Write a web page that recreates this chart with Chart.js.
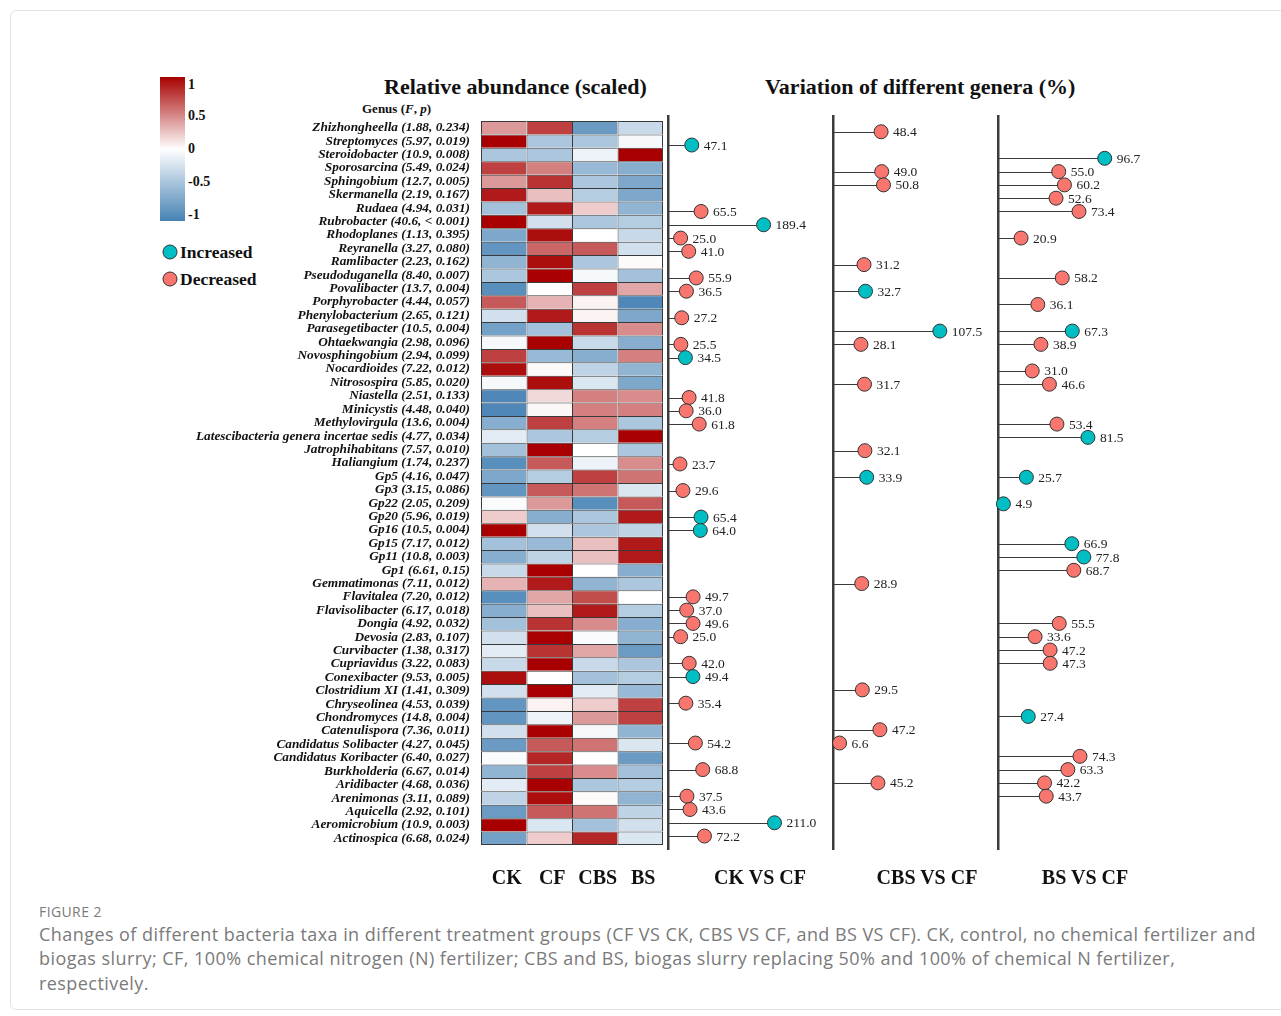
<!DOCTYPE html>
<html><head><meta charset="utf-8">
<script src="https://cdn.jsdelivr.net/npm/chart.js@4.4.0/dist/chart.umd.min.js"></script>
<style>
html,body{margin:0;padding:0;background:#fff;}
body{width:1281px;height:1016px;position:relative;overflow:hidden;font-family:"Liberation Serif","Times New Roman",serif;color:#111;}
.abs{position:absolute;}
.frame{left:10px;top:10px;width:1290px;height:1000px;border:1px solid #e2e2e2;border-radius:6px;box-sizing:border-box;}
.title{font-weight:bold;font-size:22px;white-space:nowrap;}
.panel{font-weight:bold;font-size:20px;white-space:nowrap;transform:translateX(-50%);}
.cb{left:160px;top:77px;width:25px;height:144px;background:linear-gradient(to bottom,#A80000 0%,#ffffff 50%,#4682B4 100%);}
.cbl{font-weight:bold;font-size:14px;left:188px;transform:translateY(-50%);}
.dot{width:15px;height:15px;border-radius:50%;border:1px solid #333;box-sizing:border-box;transform:translate(-50%,-50%);}
.leg{font-weight:bold;font-size:17.5px;left:180px;transform:translateY(-50%);}
.cap{left:39px;font-family:"Open Sans",sans-serif;color:#7a7a7a;white-space:nowrap;}
</style></head><body>
<div class="abs frame"></div>

<div class="abs cb"></div>
<div class="abs cbl" style="top:85px">1</div>
<div class="abs cbl" style="top:116px">0.5</div>
<div class="abs cbl" style="top:149px">0</div>
<div class="abs cbl" style="top:182px">-0.5</div>
<div class="abs cbl" style="top:215px">-1</div>
<div class="abs dot" style="left:170px;top:252px;background:#00BFC4"></div>
<div class="abs leg" style="top:252px">Increased</div>
<div class="abs dot" style="left:170px;top:279px;background:#F8766D"></div>
<div class="abs leg" style="top:279px">Decreased</div>

<div class="abs title" style="left:384px;top:74px">Relative abundance (scaled)</div>
<div class="abs title" style="left:765px;top:74px">Variation of different genera (%)</div>
<div class="abs" style="left:362px;top:101px;font-weight:bold;font-size:13px;">Genus (<i>F</i>, <i>p</i>)</div>

<div class="abs" style="left:150px;top:100px;"><canvas id="heat" width="520" height="800"></canvas></div>
<div class="abs" style="left:664px;top:115px;"><canvas id="ckcf" width="175" height="735"></canvas></div>
<div class="abs" style="left:829px;top:115px;"><canvas id="cbscf" width="175" height="735"></canvas></div>
<div class="abs" style="left:994px;top:115px;"><canvas id="bscf" width="175" height="735"></canvas></div>

<div class="abs panel" style="left:760px;top:866px">CK VS CF</div>
<div class="abs panel" style="left:927px;top:866px">CBS VS CF</div>
<div class="abs panel" style="left:1085px;top:866px">BS VS CF</div>

<div class="abs cap" style="top:902px;font-size:14px;letter-spacing:0.4px;">FIGURE 2</div>
<div class="abs cap" style="top:922px;font-size:18px;letter-spacing:0.44px;">Changes of different bacteria taxa in different treatment groups (CF VS CK, CBS VS CF, and BS VS CF). CK, control, no chemical fertilizer and</div>
<div class="abs cap" style="top:946px;font-size:18px;letter-spacing:0.44px;">biogas slurry; CF, 100% chemical nitrogen (N) fertilizer; CBS and BS, biogas slurry replacing 50% and 100% of chemical N fertilizer,</div>
<div class="abs cap" style="top:971px;font-size:18px;letter-spacing:0.44px;">respectively.</div>

<script>
// ---------------- DATA ----------------
const genera = ["Zhizhongheella","Streptomyces","Steroidobacter","Sporosarcina","Sphingobium","Skermanella","Rudaea","Rubrobacter","Rhodoplanes","Reyranella","Ramlibacter","Pseudoduganella","Povalibacter","Porphyrobacter","Phenylobacterium","Parasegetibacter","Ohtaekwangia","Novosphingobium","Nocardioides","Nitrosospira","Niastella","Minicystis","Methylovirgula","Latescibacteria genera incertae sedis","Jatrophihabitans","Haliangium","Gp5","Gp3","Gp22","Gp20","Gp16","Gp15","Gp11","Gp1","Gemmatimonas","Flavitalea","Flavisolibacter","Dongia","Devosia","Curvibacter","Cupriavidus","Conexibacter","Clostridium XI","Chryseolinea","Chondromyces","Catenulispora","Candidatus Solibacter","Candidatus Koribacter","Burkholderia","Aridibacter","Arenimonas","Aquicella","Aeromicrobium","Actinospica"];
const fValues = ["1.88","5.97","10.9","5.49","12.7","2.19","4.94","40.6","1.13","3.27","2.23","8.40","13.7","4.44","2.65","10.5","2.98","2.94","7.22","5.85","2.51","4.48","13.6","4.77","7.57","1.74","4.16","3.15","2.05","5.96","10.5","7.17","10.8","6.61","7.11","7.20","6.17","4.92","2.83","1.38","3.22","9.53","1.41","4.53","14.8","7.36","4.27","6.40","6.67","4.68","3.11","2.92","10.9","6.68"];
const pValues = ["0.234","0.019","0.008","0.024","0.005","0.167","0.031","< 0.001","0.395","0.080","0.162","0.007","0.004","0.057","0.121","0.004","0.096","0.099","0.012","0.020","0.133","0.040","0.004","0.034","0.010","0.237","0.047","0.086","0.209","0.019","0.004","0.012","0.003","0.15","0.012","0.012","0.018","0.032","0.107","0.317","0.083","0.005","0.309","0.039","0.004","0.011","0.045","0.027","0.014","0.036","0.089","0.101","0.003","0.024"];

const heatCols = ["CK","CF","CBS","BS"];
const ckScaled  = [0.4,1.0,-0.45,0.75,0.4,0.9,-0.5,1.0,-0.7,-0.85,-0.6,-0.45,-0.9,0.65,-0.25,-0.75,-0.05,0.75,0.95,-0.05,-0.95,-0.95,-0.65,-0.15,-0.5,-0.9,-0.7,-0.85,-0.03,0.2,1.0,-0.5,-0.65,-0.3,0.3,-0.9,-0.65,-0.5,-0.25,-0.15,-0.3,0.95,-0.25,-0.85,-0.85,-0.25,-0.8,-0.03,-0.6,-0.15,-0.35,-0.8,1.0,-0.75];
const cfScaled  = [0.75,-0.45,-0.45,0.5,0.8,0.25,0.9,-0.25,0.95,0.6,0.95,1.0,0.0,0.3,0.9,-0.5,1.0,-0.55,0.02,0.95,0.15,0.03,0.75,-0.45,1.0,0.65,-0.4,0.65,0.4,-0.65,-0.25,-0.55,-0.35,1.0,0.9,0.35,0.25,0.8,1.0,0.8,1.0,0.0,1.0,0.05,-0.1,1.0,0.65,0.85,0.75,1.0,0.95,0.65,-0.2,0.2];
const cbsScaled = [-0.8,-0.45,-0.1,-0.55,-0.45,-0.4,0.2,-0.45,0.0,0.65,-0.45,-0.05,0.75,0.05,0.05,0.8,-0.3,-0.65,-0.35,-0.2,0.5,0.5,0.5,-0.4,0.0,-0.1,0.75,0.55,-0.9,-0.45,-0.45,0.25,0.25,0.0,-0.6,0.7,0.9,0.45,-0.03,0.35,-0.3,-0.5,-0.15,0.2,0.4,-0.05,0.55,0.0,0.45,-0.45,0.02,0.55,-0.5,0.85];
const bsScaled  = [-0.3,-0.05,1.0,-0.65,-0.7,-0.7,-0.6,-0.4,-0.3,-0.25,0.02,-0.5,0.35,-0.95,-0.7,0.45,-0.65,0.5,-0.6,-0.7,0.45,0.5,-0.45,1.0,-0.45,0.45,0.55,-0.2,0.65,0.9,-0.35,0.9,0.9,-0.65,-0.45,0.0,-0.4,-0.65,-0.6,-0.8,-0.45,-0.4,-0.55,0.75,0.75,-0.6,-0.2,-0.8,-0.5,-0.4,-0.6,-0.35,-0.25,-0.2];

const ckVsCfGenera = ["Streptomyces","Rudaea","Rubrobacter","Rhodoplanes","Reyranella","Pseudoduganella","Povalibacter","Phenylobacterium","Ohtaekwangia","Novosphingobium","Niastella","Minicystis","Methylovirgula","Haliangium","Gp3","Gp20","Gp16","Flavitalea","Flavisolibacter","Dongia","Devosia","Cupriavidus","Conexibacter","Chryseolinea","Candidatus Solibacter","Burkholderia","Arenimonas","Aquicella","Aeromicrobium","Actinospica"];
const ckVsCfValues = [47.1,65.5,189.4,25.0,41.0,55.9,36.5,27.2,25.5,34.5,41.8,36.0,61.8,23.7,29.6,65.4,64.0,49.7,37.0,49.6,25.0,42.0,49.4,35.4,54.2,68.8,37.5,43.6,211.0,72.2];
const ckVsCfChange = ["up","down","up","down","down","down","down","down","down","up","down","down","down","down","down","up","up","down","down","down","down","down","up","down","down","down","down","down","up","down"];

const cbsVsCfGenera = ["Zhizhongheella","Sporosarcina","Sphingobium","Ramlibacter","Povalibacter","Parasegetibacter","Ohtaekwangia","Nitrosospira","Jatrophihabitans","Gp5","Gemmatimonas","Clostridium XI","Catenulispora","Candidatus Solibacter","Aridibacter"];
const cbsVsCfValues = [48.4,49.0,50.8,31.2,32.7,107.5,28.1,31.7,32.1,33.9,28.9,29.5,47.2,6.6,45.2];
const cbsVsCfChange = ["down","down","down","down","up","up","down","down","down","up","down","down","down","down","down"];

const bsVsCfGenera = ["Steroidobacter","Sporosarcina","Sphingobium","Skermanella","Rudaea","Rhodoplanes","Pseudoduganella","Porphyrobacter","Parasegetibacter","Ohtaekwangia","Nocardioides","Nitrosospira","Methylovirgula","Latescibacteria genera incertae sedis","Gp5","Gp22","Gp15","Gp11","Gp1","Dongia","Devosia","Curvibacter","Cupriavidus","Chondromyces","Candidatus Koribacter","Burkholderia","Aridibacter","Arenimonas"];
const bsVsCfValues = [96.7,55.0,60.2,52.6,73.4,20.9,58.2,36.1,67.3,38.9,31.0,46.6,53.4,81.5,25.7,4.9,66.9,77.8,68.7,55.5,33.6,47.2,47.3,27.4,74.3,63.3,42.2,43.7];
const bsVsCfChange = ["up","down","down","down","down","down","down","down","up","down","down","down","down","up","up","up","up","up","down","down","down","down","down","up","down","down","down","down"];

// ---------------- STYLE ----------------
const RED = "#F8766D", CYAN = "#00BFC4";
const HIGH = [168,0,0], MID = [255,255,255], LOW = [70,130,180];
function scaleColor(v){
  const t = Math.max(-1, Math.min(1, v));
  const a = t >= 0 ? MID : LOW, b = t >= 0 ? HIGH : MID, f = t >= 0 ? t : t + 1;
  const c = a.map((x,i)=>Math.round(x + (b[i]-x)*f));
  return `rgb(${c[0]},${c[1]},${c[2]})`;
}
const serif = "'Liberation Serif','Times New Roman',serif";
Chart.defaults.font.family = serif;
Chart.defaults.color = "#111";
Chart.defaults.animation = false;

const genusLabels = genera.map((g,i)=>`${g} (${fValues[i]}, ${pValues[i]})`);
const heatValues = [ckScaled, cfScaled, cbsScaled, bsScaled];
const nRows = genera.length;

// ---------------- HEATMAP ----------------
new Chart(document.getElementById("heat"), {
  type: "bar",
  data: {
    labels: genusLabels,
    datasets: heatCols.map((col, c) => ({
      label: col,
      data: genera.map(() => [c, c + 1]),
      backgroundColor: heatValues[c].map(scaleColor),
      borderColor: "#3a3a3a",
      borderWidth: ctx => ({top: 1, left: 1, right: c === heatCols.length - 1 ? 1 : 0, bottom: ctx.dataIndex === nRows - 1 ? 1 : 0}),
      borderSkipped: false,
      grouped: false,
      barPercentage: 1,
      categoryPercentage: 1,
      inflateAmount: 0
    }))
  },
  options: {
    indexAxis: "y",
    responsive: false,
    layout: {autoPadding: false, padding: {top: 21, left: 0, right: 7, bottom: 0}},
    plugins: {legend: {display: false}, tooltip: {enabled: false}},
    scales: {
      y: {
        type: "category",
        grid: {display: false, drawTicks: false},
        border: {display: false},
        ticks: {font: {size: 13.3, weight: "bold", style: "italic", family: serif}, color: "#111", padding: 11, autoSkip: false},
        afterFit: a => { a.width = 331; }
      },
      x: {
        type: "linear", min: 0, max: heatCols.length,
        grid: {display: false, drawTicks: false},
        border: {display: false},
        afterBuildTicks: a => { a.ticks = heatCols.map((_, i) => ({value: i + 0.5})); },
        ticks: {font: {size: 20, weight: "bold", family: serif}, color: "#111", padding: 22, autoSkip: false, maxRotation: 0,
                labelOffset: 3, callback: (v, i) => heatCols[i]},
        afterFit: a => { a.height = 55; a.paddingLeft = 0; a.paddingRight = 0; }
      }
    }
  }
});

// ---------------- LOLLIPOPS ----------------
const stemPlugin = {
  id: "stems",
  beforeDatasetsDraw(chart) {
    const {ctx, scales: {x}} = chart;
    const x0 = x.getPixelForValue(0);
    ctx.save();
    ctx.strokeStyle = "#3a3a3a";
    ctx.lineWidth = 1;
    chart.getDatasetMeta(0).data.forEach(pt => {
      ctx.beginPath();
      ctx.moveTo(x0, Math.round(pt.y) + 0.5);
      ctx.lineTo(pt.x, Math.round(pt.y) + 0.5);
      ctx.stroke();
    });
    ctx.restore();
  }
};
const valueLabelPlugin = {
  id: "valueLabels",
  afterDatasetsDraw(chart) {
    const {ctx} = chart;
    const ds = chart.data.datasets[0];
    ctx.save();
    ctx.font = `13.5px ${serif}`;
    ctx.fillStyle = "#222";
    ctx.textAlign = "left";
    ctx.textBaseline = "middle";
    chart.getDatasetMeta(0).data.forEach((pt, i) => {
      ctx.fillText(ds.data[i].x.toFixed(1), pt.x + 12, pt.y + 1);
    });
    ctx.restore();
  }
};

function lollipop(id, names, values, change, xMax) {
  new Chart(document.getElementById(id), {
    type: "scatter",
    data: {
      datasets: [{
        data: names.map((n, i) => ({x: values[i], y: genera.indexOf(n)})),
        pointRadius: 7, pointHoverRadius: 7,
        pointBackgroundColor: change.map(d => d === "up" ? CYAN : RED),
        pointBorderColor: "#333", pointBorderWidth: 1,
        clip: false
      }]
    },
    options: {
      responsive: false,
      layout: {autoPadding: false, padding: {left: 4, right: 11, top: 0, bottom: 0}},
      plugins: {legend: {display: false}, tooltip: {enabled: false}},
      scales: {
        x: {type: "linear", min: 0, max: xMax, display: false},
        y: {
          type: "linear", min: -1.26, max: nRows + 0.05, reverse: true,
          grid: {display: false, drawTicks: false},
          ticks: {display: false},
          border: {display: true, width: 2.5, color: "#3c3c3c"},
          afterFit: a => { a.width = 0; }
        }
      }
    },
    plugins: [stemPlugin, valueLabelPlugin]
  });
}
lollipop("ckcf", ckVsCfGenera, ckVsCfValues, ckVsCfChange, 317);
lollipop("cbscf", cbsVsCfGenera, cbsVsCfValues, cbsVsCfChange, 161);
lollipop("bscf", bsVsCfGenera, bsVsCfValues, bsVsCfChange, 145);
</script>
</body></html>
